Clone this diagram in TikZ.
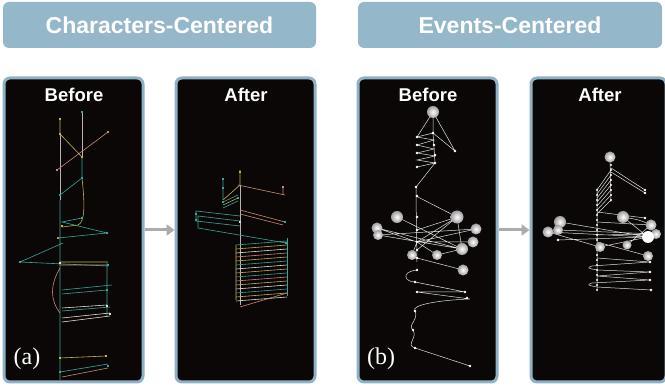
\documentclass[tikz,border=0pt]{standalone}
\usepackage{fontspec}
\usetikzlibrary{arrows.meta}
\newfontfamily\headfont{Liberation Sans}
\newfontfamily\capfont{Liberation Serif}
\definecolor{headblue}{HTML}{95B7CA}
\definecolor{frameblue}{HTML}{8DB2C5}
\definecolor{panelbg}{HTML}{0B0707}
\definecolor{flowgray}{HTML}{ABABAB}
\definecolor{cteal}{HTML}{3AA597}
\definecolor{cyel}{HTML}{C2B055}
\definecolor{cpink}{HTML}{C88A78}
\definecolor{cgray}{HTML}{B8B2B6}
\definecolor{cwhite}{HTML}{E6DED6}

\begin{document}
\begin{tikzpicture}[x=1pt,y=-1pt,line width=0.6pt,
  head/.style={fill=headblue,rounded corners=6pt,minimum height=46pt,inner sep=0pt,text=white,font=\headfont\bfseries\fontsize{23}{27}\selectfont},
  panel/.style={draw=frameblue,line width=3pt,fill=panelbg,rounded corners=6pt,minimum width=139pt,minimum height=304pt,inner sep=0pt},
  phase/.style={text=white,font=\headfont\bfseries\fontsize{18.5}{22}\selectfont},
  tag/.style={text=white,font=\capfont\fontsize{24}{28}\selectfont},
  flow/.style={flowgray,line width=3pt,-{Triangle[length=8pt,width=11pt]}},
  ev/.style={white!88!black,line width=0.5pt},
  ball/.style={inner color=white,outer color=white!62!black}]
\useasboundingbox (0,0) rectangle (665,387);

\node[head,minimum width=313pt] (chhead) at (159.5,25) {Characters-Centered};
\node[head,minimum width=304pt] (evhead) at (510,25) {Events-Centered};

\node[panel] (chbefore) at (73.5,230) {};
\node[panel] (chafter) at (245.5,230) {};
\node[panel] (evbefore) at (427.5,230) {};
\node[panel,minimum width=135pt] (evafter) at (598.5,230) {};
\draw[flow] (chbefore.east) -- (chafter.west);
\draw[flow] (evbefore.east) -- (evafter.west);

\node[phase] (chb) at (74,95) {Before};
\node[phase] (cha) at (246,95) {After};
\node[phase] (evb) at (428,95) {Before};
\node[phase] (eva) at (600,95) {After};
\node[tag] (taga) at (27,359) {(a)};
\node[tag] (tagb) at (381,359) {(b)};

\draw[cgray] (60,134)--(60,200) (82,112)--(82,157);
\draw[cyel] (60,119)--(60,134)--(82,157) (82,178) .. controls (85,205) and (85,222) .. (78,225) -- (62,227);
\draw[cpink] (108,132)--(57,170);
\draw[cteal] (82,157)--(82,178)--(60,195) (60,200)--(60,380) (82,218)--(62,222)--(107,233)--(58,238) (63,243)--(20,262)--(108,266);
\draw[cyel] (60,262)--(108,262) (60,358)--(106,356);
\draw[cpink] (60,265)--(108,265) (60,268) .. controls (50,285) and (50,300) .. (60,313) (62,377)--(108,368);
\draw[cteal] (107,263)--(107,316) (62,290)--(112,285) (62,294)--(107,290) (62,311)--(110,307) (60,372)--(108,364);
\draw[cwhite] (62,308)--(107,305) (62,318)--(110,313) (62,322)--(110,316);
\foreach \x/\y/\c in {60/119/cyel,60/134/cyel,82/112/cteal,82/157/cyel,82/178/cteal,60/195/cteal,82/218/cteal,62/226/cyel,107/233/cteal,58/238/cpink,20/262/cteal,108/265/cteal,60/263/cwhite,107/290/cteal,107/306/cwhite,110/314/cwhite,60/358/cyel,106/356/cyel,60/372/cteal,108/366/cteal,108/132/cpink,57/170/cpink}
  \fill[\c] (\x-1.3,\y-1.3) rectangle (\x+1.3,\y+1.3);

\draw[cgray] (240,185)--(240,305);
\draw[cyel] (240,170)--(240,185)--(223,200) (223,205)--(238,198) (236,245)--(236,300);
\draw[cteal] (223,179)--(223,200) (223,202)--(238,195) (223,208)--(238,201);
\draw[cpink] (238,185)--(285,195) (283,187)--(283,195) (240,210)--(285,222) (240,214)--(283,225);
\draw[cteal] (240,216)--(196,211)--(196,221)--(240,226) (240,221)--(198,216)--(198,228)--(286,243);
\foreach \y/\c in {245/cteal,249/cyel,253/cwhite,257/cpink,261/cyel,265/cteal,269/cwhite,273/cyel,277/cteal,281/cpink,285/cyel,289/cwhite,293/cteal,297/cyel,301/cwhite}
  \draw[\c] (236,\y)--(287,\y-4);
\draw[cteal] (287,238)--(287,296);
\draw[cpink] (240,307)--(287,293);
\foreach \x/\y/\c in {240/172/cyel,223/179/cteal,223/188/cteal,223/202/cteal,238/198/cteal,283/187/cpink,196/214/cteal,196/220/cteal,240/222/cwhite,285/222/cteal,286/243/cteal}
  \fill[\c] (\x-1.3,\y-1.3) rectangle (\x+1.3,\y+1.3);

\draw[ev] (433,112)--(417,137) (433,112)--(433,133)--(435,163) (433,112)--(455,151)--(433,133)
  (433,133)--(417,137)--(434,140)--(417,145)--(434,149)--(417,153)--(435,156)--(417,160)--(435,163)--(417,167)
  (435,163)--(416,187)--(416,196)--(457,217) (416,196)--(417,262)
  (397,217)--(462,249) (417,230)--(457,217)--(417,250) (377,228)--(462,249) (378,235)--(462,249)
  (377,228)--(417,242) (378,235)--(476,229) (417,242)--(473,242) (417,242)--(457,217) (417,242)--(476,229)
  (412,255)--(417,242)--(437,255)--(462,249) (417,258)--(463,270) (457,217)--(462,249);
\draw[ev] (417,270) .. controls (400,272) and (405,282) .. (415,282) -- (465,292) -- (417,292) -- (470,299)
  .. controls (440,300) and (410,305) .. (415,311) .. controls (419,320) and (407,325) .. (413,330)
  .. controls (418,338) and (405,345) .. (415,348) -- (470,366);
\foreach \x/\y in {433/133,434/145,435/155,435/163,417/137,417/145,417/153,417/167,455/151,416/187,417/196,417/217,417/230,417/242,417/250,417/258,417/270,415/282,465/292,417/292,467/298,415/311,413/330,415/348,470/366}
  \fill[white] (\x,\y) circle[radius=1.3pt];
\foreach \x/\y/\r in {433/112/6,397/217/6,457/217/6.5,377/228/5.5,378/235/5,476/229/5.5,473/242/5.5,462/249/6,412/255/5,437/255/5,463/270/5.5}
  \shade[ball] (\x,\y) circle[radius=\r pt];

\draw[ev] (610,157)--(611,202) (611,168)--(645,190) (611,172)--(645,193) (597,188)--(597,290);
\foreach \k in {0,...,6}
  \draw[ev] (611,170+5*\k)--(597,190+4*\k);
\draw[ev] (560,222)--(648,237) (548,232)--(648,237) (558,230)--(656,234) (558,240)--(648,237)
  (597,212)--(645,218) (597,222)--(651,225) (623,217)--(648,237) (623,217) .. controls (640,220) .. (651,225)
  (597,235)--(656,234) (600,247)--(648,237) (627,245)--(651,225) (597,242)--(648,256) (548,232)--(600,247);
\draw[ev] (597,258) -- (650,262) -- (592,266) .. controls (587,268) .. (597,270) -- (650,272) -- (597,276)
  -- (650,280) -- (592,283) .. controls (587,285) .. (597,287) -- (651,290);
\foreach \y in {165,170,...,200}
  \fill[white] (611,\y) circle[radius=1.1pt];
\foreach \y in {190,195,...,290}
  \fill[white] (597,\y) circle[radius=1.1pt];
\foreach \x/\y in {645/190,645/193,558/240,645/218,650/262,650/272,650/280,651/290}
  \fill[white] (\x,\y) circle[radius=1.3pt];
\foreach \x/\y/\r in {610/157/5.5,560/222/6,548/232/5.5,558/230/5,623/217/6,651/225/5.5,656/234/5,600/247/5,627/245/4.5,648/256/5}
  \shade[ball] (\x,\y) circle[radius=\r pt];
\fill[white] (648,237) circle[radius=6pt];
\end{tikzpicture}
\end{document}
